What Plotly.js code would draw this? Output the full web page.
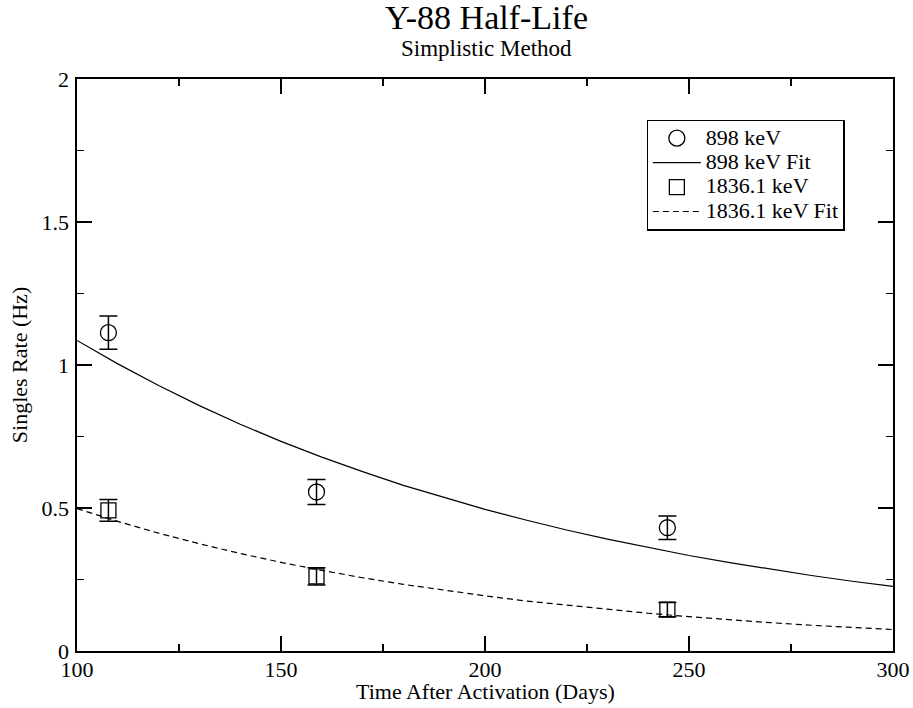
<!DOCTYPE html>
<html>
<head>
<meta charset="utf-8">
<script src="https://cdn.plot.ly/plotly-3.0.1.min.js"></script>
<style>html,body{margin:0;padding:0;background:#fff;}#chart{width:913px;height:708px;}</style>
</head>
<body>
<div id="chart"></div>
<script>
// Measured data points
const days = [107.7, 158.7, 244.7];
const rate898 = [1.113, 0.556, 0.431];
const err898 = [0.058, 0.044, 0.041];
const rate1836 = [0.492, 0.261, 0.145];
const err1836 = [0.038, 0.030, 0.025];

// Fit curves
const fitDays = [100,110,120,130,140,150,160,170,180,190,200,210,220,230,240,250,260,270,280,290,300];
const fit898 = [1.086,1.004,0.928,0.858,0.793,0.733,0.678,0.627,0.579,0.536,0.495,0.458,0.423,0.391,0.362,0.334,0.309,0.286,0.264,0.244,0.226];
const fit1836 = [0.498,0.453,0.412,0.375,0.341,0.310,0.282,0.256,0.233,0.212,0.193,0.175,0.160,0.145,0.132,0.120,0.109,0.099,0.090,0.082,0.075];

const titleText = 'Y-88 Half-Life';
const subtitleText = 'Simplistic Method';
const xTitle = 'Time After Activation (Days)';
const yTitle = 'Singles Rate (Hz)';
const seriesNames = ['898 keV', '898 keV Fit', '1836.1 keV', '1836.1 keV Fit'];

const font = 'Liberation Serif, Times New Roman, serif';
const big = s => '<span style="font-size:22px">' + s + '</span>';

const traces = [
  {x: days, y: rate898, name: big(seriesNames[0]), mode: 'markers', type: 'scatter',
   marker: {symbol: 'circle-open', size: 16, color: 'black', line: {width: 1.3, color: 'black'}},
   error_y: {type: 'data', array: err898, visible: true, color: 'black', thickness: 1.5, width: 9}},
  {x: fitDays, y: fit898, name: big(seriesNames[1]), mode: 'lines', type: 'scatter',
   line: {color: 'black', width: 1.2}},
  {x: days, y: rate1836, name: big(seriesNames[2]), mode: 'markers', type: 'scatter',
   marker: {symbol: 'square-open', size: 15, color: 'black', line: {width: 1.3, color: 'black'}},
   error_y: {type: 'data', array: err1836, visible: true, color: 'black', thickness: 1.5, width: 9}},
  {x: fitDays, y: fit1836, name: big(seriesNames[3]), mode: 'lines', type: 'scatter',
   line: {color: 'black', width: 1.2, dash: '6px,4px'}}
];

const axisCommon = {
  showgrid: false, zeroline: false, showline: true, linecolor: 'black', linewidth: 1.6,
  mirror: 'ticks', ticks: 'inside', ticklen: 15, tickwidth: 1.3, tickcolor: 'black',
  tickfont: {family: font, size: 22, color: 'black'}, automargin: false
};

const layout = {
  width: 913, height: 708,
  margin: {l: 77, r: 20, t: 79, b: 57},
  paper_bgcolor: 'white', plot_bgcolor: 'white',
  font: {family: font, color: 'black'},
  annotations: [
    {text: titleText, xref: 'paper', yref: 'paper', x: 0.502, y: 1.107, xanchor: 'center', yanchor: 'middle',
     showarrow: false, font: {family: font, size: 34, color: 'black'}},
    {text: subtitleText, xref: 'paper', yref: 'paper', x: 0.502, y: 1.053, xanchor: 'center', yanchor: 'middle',
     showarrow: false, font: {family: font, size: 23, color: 'black'}},
    {text: xTitle, xref: 'paper', yref: 'paper', x: 0.5, y: -0.071, xanchor: 'center', yanchor: 'middle',
     showarrow: false, font: {family: font, size: 22, color: 'black'}}
  ],
  xaxis: Object.assign({}, axisCommon, {
    range: [100, 300], dtick: 50, tick0: 100, ticklabelstandoff: -2,
    minor: {dtick: 25, ticks: 'inside', ticklen: 7, tickcolor: 'black', tickwidth: 1.3}
  }),
  yaxis: Object.assign({}, axisCommon, {
    range: [0, 2], dtick: 0.5, tick0: 0, ticklabelstandoff: 2,
    minor: {dtick: 0.25, ticks: 'inside', ticklen: 7, tickcolor: 'black', tickwidth: 1.3},
    title: {text: yTitle, font: {family: font, size: 22, color: 'black'}, standoff: 8}
  }),
  legend: {x: 0.698, y: 0.929, xanchor: 'left', yanchor: 'top',
           bordercolor: 'black', borderwidth: 1.3, bgcolor: 'white',
           font: {family: font, size: 16.5, color: 'black'}, tracegroupgap: 0, itemwidth: 48},
  showlegend: true
};

Plotly.newPlot('chart', traces, layout, {displayModeBar: false, staticPlot: true});
</script>
</body>
</html>
